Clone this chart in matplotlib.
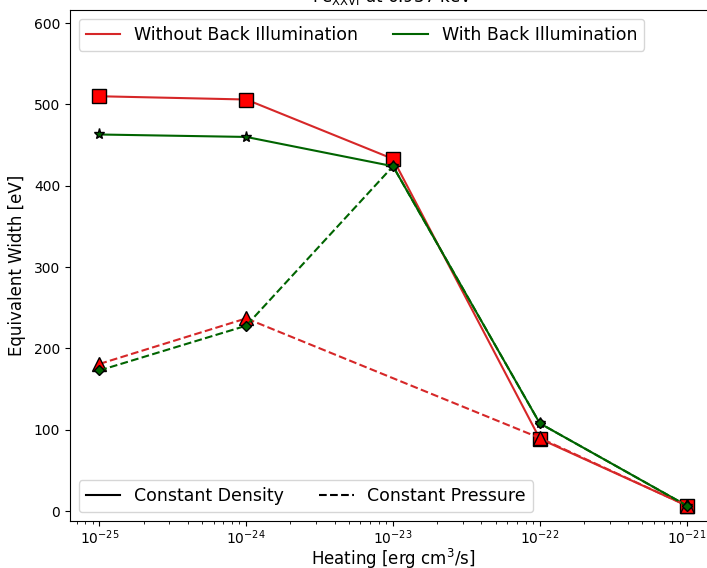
import matplotlib
matplotlib.use("Agg")
import matplotlib.pyplot as plt
from matplotlib.lines import Line2D
import numpy as np

heating = [1e-25, 1e-24, 1e-23, 1e-22, 1e-21]
red_density = [510, 506, 433, 89, 7]
green_density = [463, 460, 424, 108, 7]
red_pressure_x = [1e-25, 1e-24, 1e-22, 1e-21]
red_pressure = [181, 237, 90, 7]
green_pressure = [173, 228, 424, 108, 7]

fig = plt.figure(figsize=(7.07, 5.68), dpi=100)
ax = fig.add_axes([70/707, 1-521/568, (716-70)/707, (521-10)/568])

ax.plot(heating, red_density, '-', color='tab:red', marker='s', markersize=10,
        markerfacecolor='red', markeredgecolor='black', zorder=3)
ax.plot(heating, green_density, '-', color='darkgreen', marker='*', markersize=8,
        markerfacecolor='darkgreen', markeredgecolor='black', zorder=3)
ax.plot(red_pressure_x, red_pressure, '--', color='tab:red', marker='^', markersize=10,
        markerfacecolor='red', markeredgecolor='black', zorder=3)
ax.plot(heating, green_pressure, '--', color='darkgreen', marker='D', markersize=5,
        markerfacecolor='darkgreen', markeredgecolor='black', zorder=3)

ax.set_xscale('log')
ax.set_ylim(-12, 616)
ax.tick_params(axis='x', pad=2)
ax.set_xlabel('Heating [erg cm$^3$/s]', fontsize=12, labelpad=0)
ax.set_ylabel('Equivalent Width [eV]', fontsize=12, labelpad=6)
ax.set_title('Fe$_{\\rm XXVI}$ at 6.937 keV', fontsize=12)

h1 = [Line2D([], [], color='tab:red'), Line2D([], [], color='darkgreen')]
leg1 = ax.legend(h1, ['Without Back Illumination', 'With Back Illumination'],
                 loc='upper left', ncol=2, fontsize=12.5)
ax.add_artist(leg1)
h2 = [Line2D([], [], color='black', ls='-'), Line2D([], [], color='black', ls='--')]
ax.legend(h2, ['Constant Density', 'Constant Pressure'], loc='lower left', ncol=2, fontsize=12.5)

fig.savefig('out.png', dpi=100)
